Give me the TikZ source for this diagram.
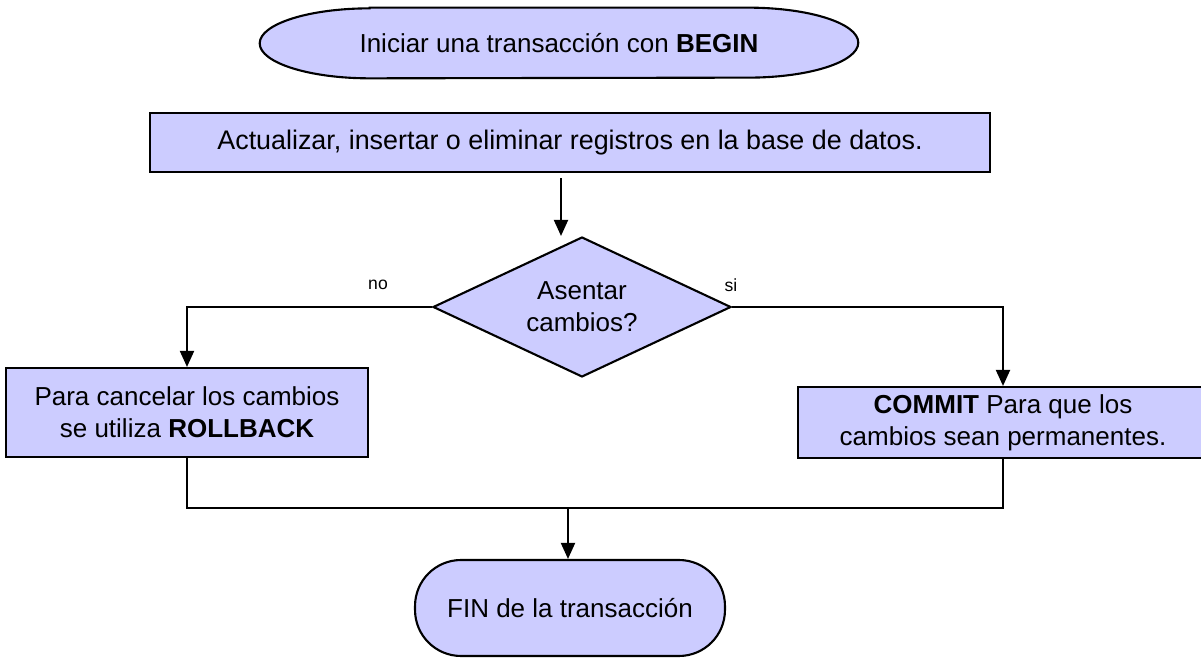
\documentclass[tikz,border=0pt]{standalone}
\usepackage{fontspec}
\setmainfont{Liberation Sans}
\usepackage{tikz}
\usetikzlibrary{arrows.meta,positioning,shapes.geometric,backgrounds}
\definecolor{TRFill}{HTML}{CCCCFF}
\definecolor{TRLine}{HTML}{000000}

\begin{document}
\begin{tikzpicture}[
    x=0.02cm, y=-0.02cm,
    every node/.style={font=\fontsize{14.8}{18.2}\selectfont},
    outline/.style={draw=TRLine,line width=1.2pt,fill=TRFill},
    box/.style={outline,align=center,inner sep=0pt},
    terminal/.style={box,rounded corners=0.92cm},
    decision/.style={box,diamond,aspect=2.13},
    arrow/.style={-{Triangle[length=0.32cm,width=0.28cm]},line width=1.1pt,draw=TRLine},
    link/.style={line width=1.1pt,draw=TRLine},
    tag/.style={font=\fontsize{10}{12}\selectfont}
  ]
  \useasboundingbox (0,0) rectangle (1201,661);
  \clip (0,0) rectangle (1201,661);

  \node[align=center,minimum width=11.96cm,minimum height=1.4cm] (start) at (559,43) {Iniciar una transacción con \textbf{BEGIN}};
  \node[box,minimum width=16.82cm,minimum height=1.18cm,font=\fontsize{15.3}{18.2}\selectfont] (upd) at (570,142.5) {Actualizar, insertar o eliminar registros en la base de datos.};
  \node[decision,minimum width=5.96cm,minimum height=2.8cm] (dec) at (582,307) {Asentar\\cambios?};
  \node[box,minimum width=7.24cm,minimum height=1.78cm] (rb) at (187,412.5) {Para cancelar los cambios\\se utiliza \textbf{ROLLBACK}};
  \node[box,minimum width=8.2cm,minimum height=1.42cm] (cm) at (1003,422.5) {\textbf{COMMIT} Para que los\\cambios sean permanentes.};
  \node[terminal,minimum width=6.2cm,minimum height=1.92cm] (fin) at (570,608) {FIN de la transacción};
  \node[tag] (nolbl) at (378,285) {no};
  \node[tag] (silbl) at (731,285) {si};
  \coordinate (join) at (568,508);

  % elliptical ends of the start shape
  \begin{scope}[on background layer]
    \draw[outline] ([xshift=2.2cm]start.north west) -- ([xshift=-2.2cm]start.north east)
      arc[start angle=90,end angle=-90,x radius=2.2cm,y radius=0.7cm]
      -- ([xshift=2.2cm]start.south west)
      arc[start angle=270,end angle=90,x radius=2.2cm,y radius=0.7cm] -- cycle;
  \end{scope}

  \draw[arrow] ([xshift=-0.18cm,yshift=-0.1cm]upd.south) -- ([xshift=-0.18cm]upd.south |- dec.north);
  \draw[arrow] (dec.west) -| (rb.north);
  \draw[arrow] (dec.east) -| (cm.north);
  \draw[link] (rb.south) |- (join) -| (cm.south);
  \draw[arrow] (join) -- (join |- fin.north);
\end{tikzpicture}
\end{document}
